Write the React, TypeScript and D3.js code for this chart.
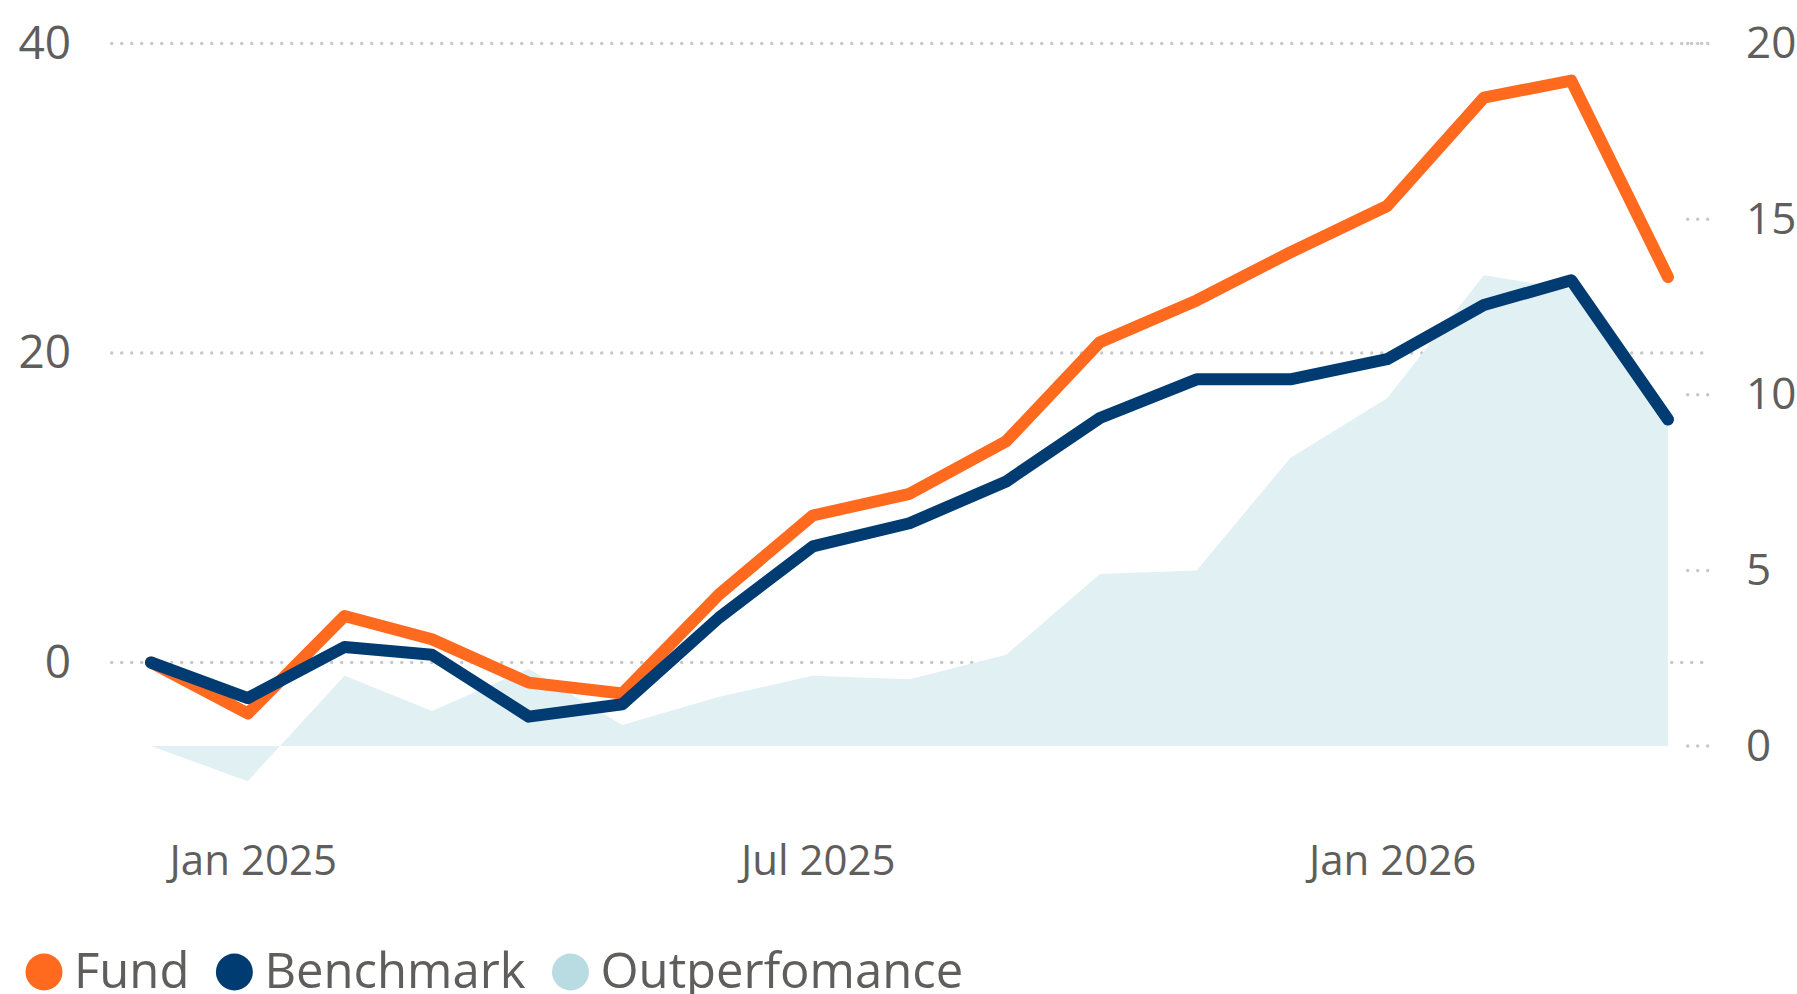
import React, { useRef, useEffect } from "react"
import * as d3 from "d3"

const months = [
  "2024-12", "2025-01", "2025-02", "2025-03", "2025-04", "2025-05", "2025-06",
  "2025-07", "2025-08", "2025-09", "2025-10", "2025-11", "2025-12",
  "2026-01", "2026-02", "2026-03", "2026-04",
]
const fund = [0, -3.3, 3.0, 1.5, -1.3, -2.0, 4.4, 9.5, 10.9, 14.3, 20.7, 23.4, 26.5, 29.5, 36.5, 37.6, 24.9]
const benchmark = [0, -2.3, 1.0, 0.5, -3.5, -2.7, 2.9, 7.5, 9.0, 11.7, 15.8, 18.3, 18.3, 19.6, 23.1, 24.7, 15.7]
const outperformance = [0, -1.0, 2.0, 1.0, 2.2, 0.6, 1.4, 2.0, 1.9, 2.6, 4.9, 5.0, 8.2, 9.9, 13.4, 13.0, 9.2]

const leftTicks = [0, 20, 40]
const rightTicks = [0, 5, 10, 15, 20]
const xTicks = ["2025-01", "2025-07", "2026-01"]

const legendItems = [
  { label: "Fund", color: "#FF6A1F" },
  { label: "Benchmark", color: "#003B71" },
  { label: "Outperfomance", color: "#B8DCE2" },
]

const FONT = "'Segoe UI', 'Open Sans', sans-serif"
const TEXT = "#605E5C"
const GRID = "#C8C8C8"

const App = () => {
  const ref = useRef(null)
  const width = 1797
  const height = 994

  useEffect(() => {
    if (!ref.current) return
    const svg = d3.select(ref.current)
    svg.selectAll("*").remove()

    const parse = d3.timeParse("%Y-%m")
    const dates = months.map(m => parse(m))

    const x = d3
      .scaleTime()
      .domain([dates[0], dates[dates.length - 1]])
      .range([151, 1668])
    const yL = d3.scaleLinear().domain([0, 40]).range([662.5, 43.5])
    const yR = d3.scaleLinear().domain([0, 20]).range([746, 43.5])

    // gridlines (left axis)
    svg
      .append("g")
      .selectAll("line")
      .data(leftTicks)
      .enter()
      .append("line")
      .attr("x1", 111.7)
      .attr("x2", 1704)
      .attr("y1", d => yL(d))
      .attr("y2", d => yL(d))
      .attr("stroke", GRID)
      .attr("stroke-width", 3.5)
      .attr("stroke-linecap", "round")
      .attr("stroke-dasharray", "0 10")

    // right axis short dotted ticks
    svg
      .append("g")
      .selectAll("line")
      .data(rightTicks)
      .enter()
      .append("line")
      .attr("x1", 1687.7)
      .attr("x2", 1708)
      .attr("y1", d => yR(d))
      .attr("y2", d => yR(d))
      .attr("stroke", GRID)
      .attr("stroke-width", 3.5)
      .attr("stroke-linecap", "round")
      .attr("stroke-dasharray", "0 10")

    // left axis labels
    const leftAxis = svg
      .append("g")
      .attr("transform", "translate(71,0)")
      .call(d3.axisLeft(yL).tickValues(leftTicks).tickSize(0).tickPadding(0))
    leftAxis.select(".domain").remove()
    leftAxis
      .selectAll("text")
      .attr("font-family", FONT)
      .attr("font-size", 46)
      .attr("fill", TEXT)

    // right axis labels
    const rightAxis = svg
      .append("g")
      .attr("transform", "translate(1746,0)")
      .call(d3.axisRight(yR).tickValues(rightTicks).tickSize(0).tickPadding(0))
    rightAxis.select(".domain").remove()
    rightAxis
      .selectAll("text")
      .attr("font-family", FONT)
      .attr("font-size", 44)
      .attr("fill", TEXT)

    // x axis labels
    const xAxis = svg
      .append("g")
      .attr("transform", "translate(5,0)")
      .call(
        d3
          .axisBottom(x)
          .tickValues(xTicks.map(m => parse(m)))
          .tickFormat(d3.timeFormat("%b %Y"))
          .tickSize(0)
          .tickPadding(0)
      )
    xAxis.select(".domain").remove()
    xAxis
      .selectAll("text")
      .attr("y", 875)
      .attr("dy", null)
      .attr("font-family", FONT)
      .attr("font-size", 42)
      .attr("fill", TEXT)

    // outperformance area (right axis)
    const area = d3
      .area()
      .x((d, i) => x(dates[i]))
      .y0(yR(0))
      .y1(d => yR(d))
    svg
      .append("path")
      .datum(outperformance)
      .attr("d", area)
      .attr("fill", "#E1F0F3")

    // lines (left axis)
    const line = d3
      .line()
      .x((d, i) => x(dates[i]))
      .y(d => yL(d))
    svg
      .append("g")
      .selectAll("path")
      .data([fund, benchmark])
      .enter()
      .append("path")
      .attr("d", d => line(d))
      .attr("fill", "none")
      .attr("stroke", (d, i) => legendItems[i].color)
      .attr("stroke-width", 12)
      .attr("stroke-linejoin", "round")
      .attr("stroke-linecap", "round")

    // legend
    const legend = svg.append("g").attr("transform", "translate(0,972)")
    let cx = 44
    legendItems.forEach(item => {
      legend
        .append("circle")
        .attr("cx", cx)
        .attr("cy", 0)
        .attr("r", 18.5)
        .attr("fill", item.color)
      const t = legend
        .append("text")
        .attr("x", cx + 30)
        .attr("y", 16)
        .attr("font-family", FONT)
        .attr("font-size", 49)
        .attr("fill", TEXT)
        .text(item.label)
      const w = t.node().getComputedTextLength()
      cx = cx + 30 + w + 45
    })
  }, [])

  return (
    <svg
      ref={ref}
      width={width}
      height={height}
      style={{ position: "absolute", left: 0, top: 0, display: "block" }}
    />
  )
}

export default App
